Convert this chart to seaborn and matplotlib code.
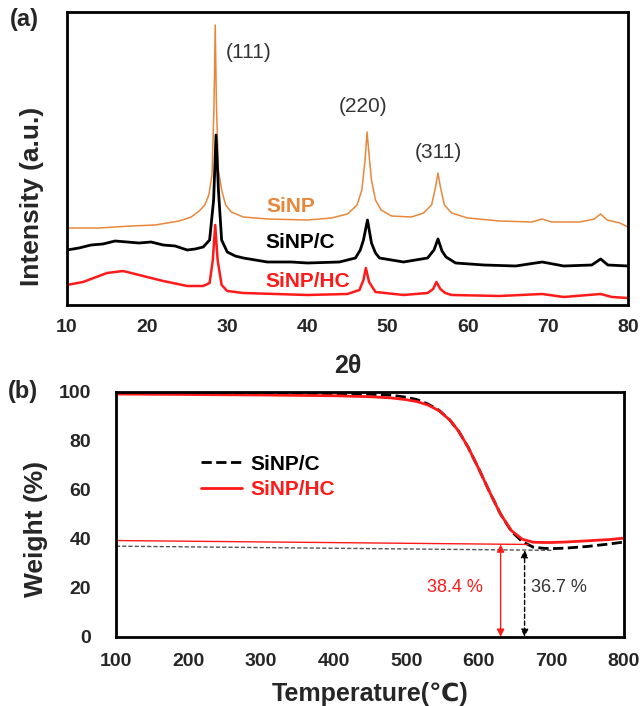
import numpy as np
import pandas as pd
import matplotlib
matplotlib.use("Agg")
import matplotlib.pyplot as plt
import seaborn as sns

# ---- (a) XRD patterns, intensity in a.u. ----
sinp_2t = [10, 14, 18, 21, 24, 25.5, 26.5, 27.2, 27.7, 28.1, 28.35, 28.5, 28.65, 28.9, 29.3, 29.8,
           30.5, 32, 35, 40, 43, 45, 46.2, 46.8, 47.2, 47.45, 47.7, 48.0, 48.5, 49.2, 50.5, 53,
           54.5, 55.5, 56.0, 56.3, 56.6, 57.1, 58, 60, 64, 68, 69.3, 70.5, 74, 75.8, 76.6, 77.4, 79, 80]
sinp_i = [77, 77, 79, 80, 84, 88, 94, 100, 110, 130, 200, 280, 200, 135, 115, 100,
          93, 88, 86, 85, 87, 91, 100, 115, 145, 173, 150, 125, 105, 95, 89, 88,
          92, 100, 118, 132, 118, 100, 92, 87, 84, 83, 86, 83, 83, 86, 91, 85, 82, 78]

sinpc_2t = [10, 11.5, 13, 14.5, 16, 17.5, 19, 20.5, 22, 23.5, 25, 26, 27, 27.8, 28.3, 28.6, 28.9, 29.3,
            30, 31, 32, 35, 38, 40, 44, 46, 46.6, 47.0, 47.5, 48.0, 48.5, 49, 52, 55, 55.8, 56.3,
            56.8, 57.3, 58.5, 62, 66, 69.3, 72, 75.5, 76.6, 77.5, 80]
sinpc_i = [55, 57, 60, 61, 64, 63, 62, 63, 60, 59, 55, 56, 58, 65, 105, 170, 115, 65,
           53, 49, 47, 43, 43, 42, 43, 47, 55, 65, 85, 62, 52, 47, 43, 47, 55, 66,
           54, 48, 42, 40, 39, 43, 39, 40, 46, 40, 39]

sinphc_2t = [10, 12, 14, 15, 16, 17, 18, 20, 22, 25, 27, 27.8, 28.2, 28.5, 28.8, 29.3, 30, 32,
             36, 40, 45, 46.5, 47.0, 47.3, 47.7, 48.5, 52, 55, 55.7, 56.1, 56.6, 57.2, 58, 64,
             69.3, 72, 76.6, 78, 80]
sinphc_i = [20, 23, 29, 32, 33, 34, 32, 28, 24, 19, 19, 22, 45, 80, 45, 20, 14, 12,
            11, 10, 11, 15, 25, 37, 23, 13, 10, 12, 16, 23, 16, 12, 10, 9,
            11, 8, 11, 8, 7]

peak_labels = ["(111)", "(220)", "(311)"]
peak_pos = [(32.7, 253), (46.9, 198), (56.3, 152)]

# ---- (b) TGA curves ----
temp = [100, 200, 300, 400, 450, 480, 500, 515, 530, 545, 560, 572, 585, 600, 615, 630,
        645, 660, 675, 690, 700, 720, 750, 780, 800]
w_c = [99.6, 99.5, 99.4, 99.2, 99.0, 98.6, 97.8, 96.8, 95.0, 92.5, 88.5, 84.0, 77.5, 68.5, 59.0, 50.0,
       43.0, 38.8, 36.6, 36.1, 36.0, 36.2, 36.9, 37.9, 38.7]
w_hc = [99.1, 98.9, 98.7, 98.4, 98.0, 97.5, 96.8, 96.0, 94.6, 92.3, 88.5, 84.0, 77.5, 68.5, 59.0, 50.0,
        43.3, 39.8, 38.6, 38.5, 38.5, 38.7, 39.2, 39.7, 40.3]
ref_hc_t = [100, 668]
ref_hc_w = [39.3, 37.7]
ref_c_t = [100, 700]
ref_c_w = [37.0, 35.3]
arrow_hc = (630, 37.7, "38.4 %")
arrow_c = (663, 35.4, "36.7 %")

sns.set_style("white")
plt.rcParams["font.family"] = ["Liberation Sans", "DejaVu Sans"]
plt.rcParams["font.weight"] = "bold"

orange = "#E8873A"
red = "#FF1A1A"

fig = plt.figure(figsize=(6.44, 7.06), dpi=100)
ax1 = fig.add_axes([0.104, 0.568, 0.871, 0.415])
ax2 = fig.add_axes([0.180, 0.098, 0.789, 0.347])

# panel (a)
sns.lineplot(x=sinp_2t, y=sinp_i, ax=ax1, color=orange, lw=1.1, sort=False)
sns.lineplot(x=sinpc_2t, y=sinpc_i, ax=ax1, color="black", lw=2.0, sort=False)
sns.lineplot(x=sinphc_2t, y=sinphc_i, ax=ax1, color=red, lw=1.8, sort=False)
for lab, (px, py) in zip(peak_labels, peak_pos):
    ax1.text(px, py, lab, ha="center", va="center", fontsize=15, fontweight="normal", color="#333333")
ax1.text(37.9, 98, "SiNP", color=orange, fontsize=15, fontweight="bold", ha="center", va="center")
ax1.text(39.1, 62, "SiNP/C", color="black", fontsize=15, fontweight="bold", ha="center", va="center")
ax1.text(40.0, 23, "SiNP/HC", color=red, fontsize=15, fontweight="bold", ha="center", va="center")
ax1.set_xlim(10, 80)
ax1.set_ylim(0, 293)
ax1.set_xticks(range(10, 81, 10))
ax1.set_yticks([])
ax1.tick_params(axis="x", direction="in", length=5, width=1.2, labelsize=14, pad=10)
ax1.set_xlabel("2θ", fontsize=18, fontweight="bold", labelpad=13)
ax1.set_ylabel("Intensity (a.u.)", fontsize=19, fontweight="bold")
ax1.yaxis.set_label_coords(-0.041, 0.37)

# panel (b)
sns.lineplot(x=temp, y=w_c, ax=ax2, color="black", lw=2.0, linestyle="--", label="SiNP/C")
sns.lineplot(x=temp, y=w_hc, ax=ax2, color=red, lw=2.0, label="SiNP/HC")
ax2.plot(ref_hc_t, ref_hc_w, color=red, lw=1.0)
ax2.plot(ref_c_t, ref_c_w, color="#555555", lw=1.0, linestyle=(0, (3, 1.5)))
for (tx, top, txt), col, ls, tpos in [(arrow_hc, red, "-", (567, "center")),
                                      (arrow_c, "black", (0, (3, 2)), (710, "center"))]:
    ax2.annotate("", xy=(tx, 0), xytext=(tx, top),
                 arrowprops=dict(arrowstyle="<|-|>", color=col, lw=1.0, linestyle=ls,
                                 mutation_scale=11, shrinkA=0, shrinkB=0))
    ax2.text(tpos[0], 20, txt, color=col if col != "black" else "#333333", fontsize=13,
             fontweight="normal", ha=tpos[1], va="center")
ax2.set_xlim(100, 800)
ax2.set_ylim(0, 100)
ax2.set_xticks(range(100, 801, 100))
ax2.set_yticks(range(0, 101, 20))
ax2.tick_params(direction="in", length=5, width=1.2, labelsize=14)
ax2.tick_params(axis="x", pad=12)
ax2.tick_params(axis="y", pad=18)
ax2.set_xlabel("Temperature(℃)", fontsize=18, fontweight="bold", labelpad=8)
ax2.set_ylabel("Weight (%)", fontsize=19, fontweight="bold")
ax2.yaxis.set_label_coords(-0.134, 0.44)
leg = ax2.legend(loc="upper left", bbox_to_anchor=(0.13, 0.82), frameon=False, fontsize=15,
                 handlelength=2.0, labelcolor="linecolor", handletextpad=0.4, labelspacing=0.3)
for t in leg.get_texts():
    t.set_fontweight("bold")

for ax in (ax1, ax2):
    for s in ax.spines.values():
        s.set_linewidth(2.0)
        s.set_color("black")
    for lab in ax.get_xticklabels() + ax.get_yticklabels():
        lab.set_fontweight("bold")

fig.text(0.015, 0.972, "(a)", fontsize=17, fontweight="bold", va="center")
fig.text(0.012, 0.445, "(b)", fontsize=17, fontweight="bold", va="center")

fig.savefig("out.png", dpi=100)
